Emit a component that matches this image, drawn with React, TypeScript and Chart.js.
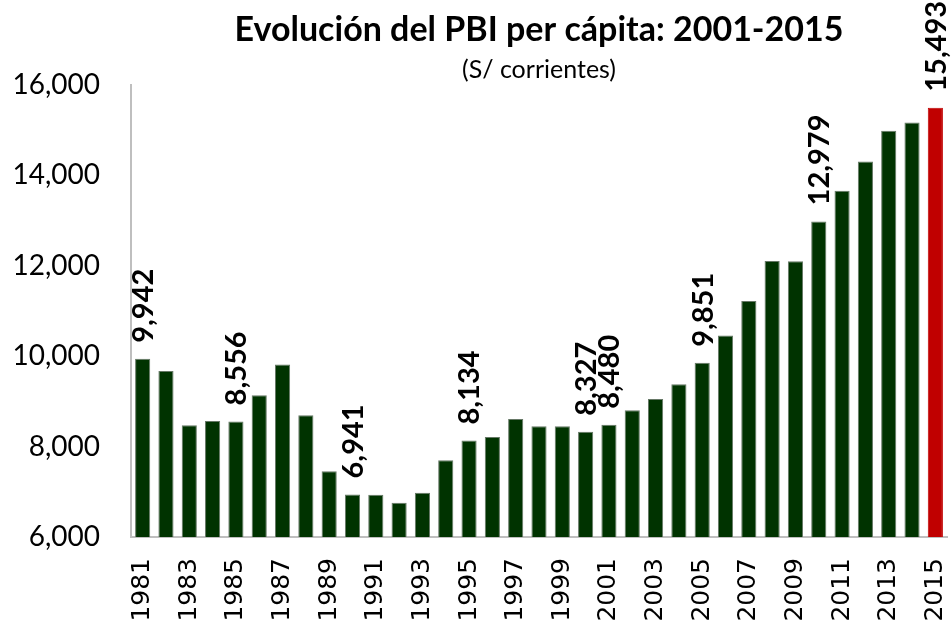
import React, { useEffect, useRef } from "react";
import { Chart, registerables } from "chart.js";

Chart.register(...registerables);

const years: string[] = [
  "1981", "1982", "1983", "1984", "1985", "1986", "1987", "1988", "1989", "1990",
  "1991", "1992", "1993", "1994", "1995", "1996", "1997", "1998", "1999", "2000",
  "2001", "2002", "2003", "2004", "2005", "2006", "2007", "2008", "2009", "2010",
  "2011", "2012", "2013", "2014", "2015",
];

const pbiPerCapita: number[] = [
  9942, 9673, 8471, 8566, 8556, 9135, 9812, 8692, 7453, 6941,
  6936, 6759, 6980, 7697, 8134, 8212, 8611, 8448, 8450, 8327,
  8480, 8803, 9053, 9378, 9851, 10454, 11221, 12106, 12100, 12979,
  13655, 14303, 14982, 15166, 15493,
];

const labeledYears: string[] = ["1981", "1985", "1990", "1995", "2000", "2001", "2005", "2010", "2015"];
const highlightYear = "2015";

const titleText = "Evolución del PBI per cápita: 2001-2015";
const subtitleText = "(S/ corrientes)";

const GREEN = "#003300";
const RED = "#C00000";

const fmt = (v: number) => v.toLocaleString("en-US");

const valueLabelPlugin = {
  id: "valueLabels",
  afterDatasetsDraw(chart: any) {
    const ctx = chart.ctx;
    const meta = chart.getDatasetMeta(0);
    ctx.save();
    ctx.fillStyle = "#000";
    ctx.font = "bold 29px Lato";
    ctx.textAlign = "left";
    ctx.textBaseline = "middle";
    meta.data.forEach((bar: any, i: number) => {
      if (!labeledYears.includes(years[i])) return;
      ctx.save();
      ctx.translate(bar.x, bar.y - 16);
      ctx.rotate(-Math.PI / 2);
      ctx.fillText(fmt(pbiPerCapita[i]), 0, 1);
      ctx.restore();
    });
    ctx.restore();
  },
};

export default function App() {
  const ref = useRef<HTMLCanvasElement | null>(null);
  useEffect(() => {
    document.body.style.margin = "0";
    const canvas = ref.current;
    if (!canvas) return;
    const chart = new Chart(canvas, {
      type: "bar",
      data: {
        labels: years,
        datasets: [
          {
            data: pbiPerCapita,
            backgroundColor: years.map((y) => (y === highlightYear ? RED : GREEN)),
            borderColor: years.map((y) => (y === highlightYear ? RED : "#667866")),
            borderWidth: 1,
            barPercentage: 0.65,
            categoryPercentage: 1,
          },
        ],
      },
      options: {
        animation: false,
        responsive: false,
        maintainAspectRatio: false,
        layout: { padding: { left: 8, right: 4, top: 0, bottom: 0 } },
        plugins: {
          legend: { display: false },
          tooltip: { enabled: false },
          title: {
            display: true,
            text: titleText,
            fullSize: false,
            color: "#000",
            font: { family: "Lato", size: 34, weight: "bold", lineHeight: 1.2 },
            padding: { top: 10, bottom: 4 },
          },
          subtitle: {
            display: true,
            text: subtitleText,
            fullSize: false,
            color: "#000",
            font: { family: "Lato", size: 25, weight: "normal", lineHeight: 1.2 },
            padding: { top: 0, bottom: 0 },
          },
        },
        scales: {
          x: {
            grid: { display: false, drawTicks: false },
            border: { display: true, color: "#bfbfbf", width: 2 },
            ticks: {
              autoSkip: false,
              minRotation: 90,
              maxRotation: 90,
              padding: 21,
              color: "#000",
              font: { family: "DejaVu Sans", size: 25 },
              callback: (_v: any, i: number) => (i % 2 === 0 ? years[i] : ""),
            },
            afterFit: (scale: any) => {
              scale.height = 86;
              scale.paddingRight = 0;
              scale.paddingLeft = 0;
            },
          },
          y: {
            min: 6000,
            max: 16000,
            grid: { display: false, drawTicks: false },
            border: { display: true, color: "#bfbfbf", width: 2 },
            ticks: {
              stepSize: 2000,
              padding: 31,
              color: "#000",
              font: { family: "Lato", size: 28 },
              callback: (v: any) => fmt(Number(v)),
            },
            afterFit: (scale: any) => {
              scale.width = 123;
            },
          },
        },
      },
      plugins: [valueLabelPlugin],
    });
    return () => chart.destroy();
  }, []);
  return (
    <div style={{ position: "absolute", left: 0, top: 0, width: 951, height: 623, background: "#fff" }}>
      <canvas ref={ref} width={951} height={623} style={{ width: 951, height: 623 }} />
    </div>
  );
}
